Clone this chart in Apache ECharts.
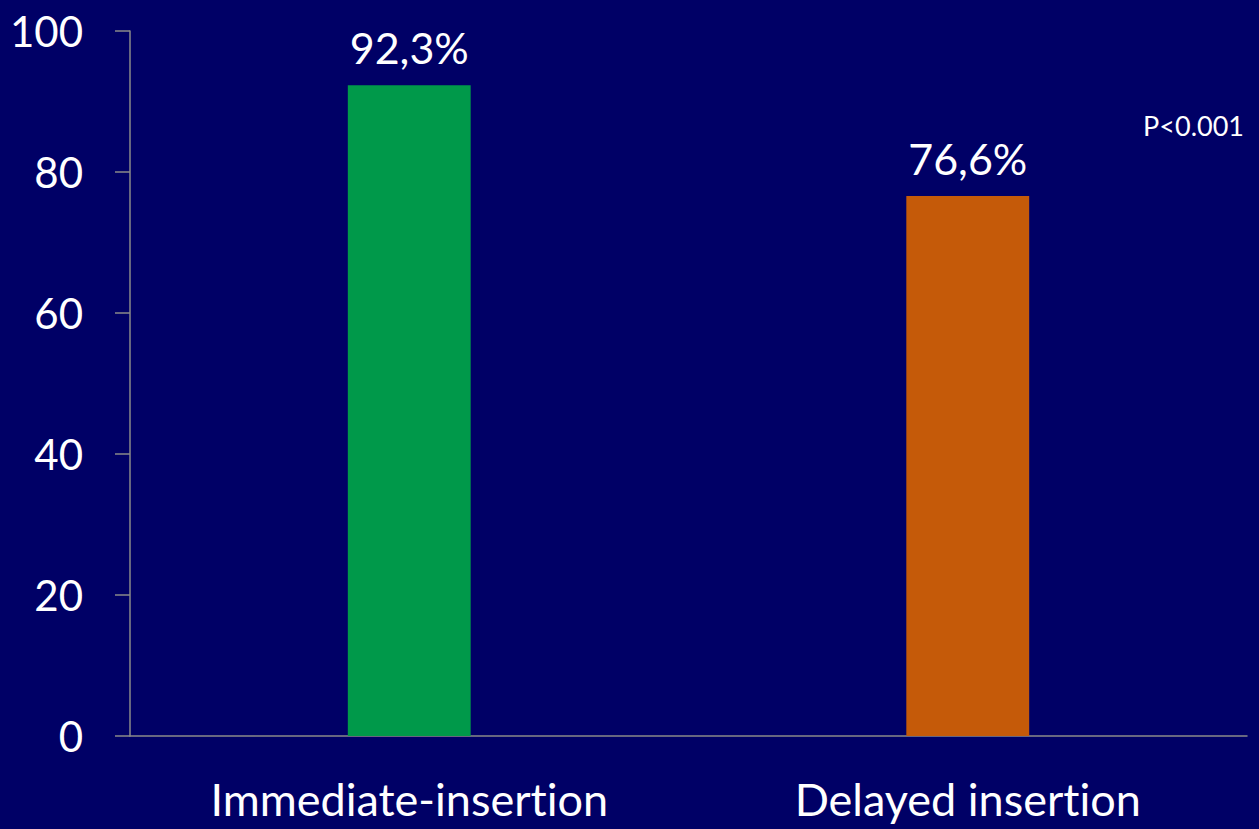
<!DOCTYPE html>
<html>
<head>
<meta charset="utf-8">
<script src="https://cdn.jsdelivr.net/npm/echarts@6/dist/echarts.min.js"></script>
<style>
  html, body { margin: 0; padding: 0; background: #000066; }
  #chart { width: 1259px; height: 829px; }
  #chart svg text { font-variant-ligatures: none; font-feature-settings: "liga" 0, "clig" 0; }
</style>
</head>
<body>
<div id="chart"></div>
<script>
// Success rate by insertion timing
const categories = ['Immediate-insertion', 'Delayed insertion'];
const values = [92.3, 76.6];
const barColors = ['#00994A', '#C55A09'];
const valueLabels = ['92,3%', '76,6%'];
const yTicks = { min: 0, max: 100, interval: 20 };
const note = 'P<0.001';

const font = 'Lato, "Open Sans", sans-serif';
const axisGrey = '#8a8a8a';

const chart = echarts.init(document.getElementById('chart'), null, { renderer: 'svg' });
chart.setOption({
  backgroundColor: '#000066',
  animation: false,
  title: {
    text: note,
    right: 10,
    top: 107,
    textStyle: { color: '#ffffff', fontFamily: font, fontSize: 27, fontWeight: 'normal' }
  },
  grid: { left: 130, right: 12, top: 31, bottom: 93 },
  xAxis: {
    type: 'category',
    data: categories,
    axisLine: { lineStyle: { color: axisGrey, width: 1.5 } },
    axisTick: { length: 15, lineStyle: { color: axisGrey, width: 1.5 } },
    axisLabel: { color: '#ffffff', fontFamily: font, fontSize: 45, margin: 40 }
  },
  yAxis: {
    type: 'value',
    min: yTicks.min,
    max: yTicks.max,
    interval: yTicks.interval,
    splitLine: { show: false },
    axisLine: { show: true, lineStyle: { color: axisGrey, width: 1.5 } },
    axisTick: { show: true, length: 15, lineStyle: { color: axisGrey, width: 1.5 } },
    axisLabel: { color: '#ffffff', fontFamily: font, fontSize: 42, margin: 47 }
  },
  series: [{
    type: 'bar',
    barWidth: '22%',
    data: values.map((v, i) => ({ value: v, itemStyle: { color: barColors[i] } })),
    label: {
      show: true,
      position: 'top',
      distance: 16,
      color: '#ffffff',
      fontFamily: font,
      fontSize: 43,
      formatter: p => valueLabels[p.dataIndex]
    }
  }]
});
</script>
</body>
</html>
